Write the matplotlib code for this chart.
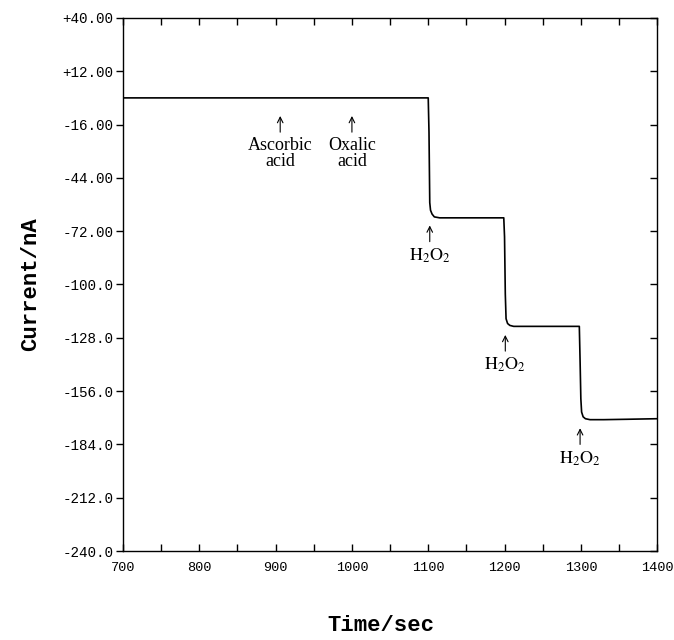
"""Amperometric response: current vs time with successive H2O2 additions."""
import numpy as np
import matplotlib
matplotlib.use('Agg')
import matplotlib.pyplot as plt

plt.rcParams['mathtext.fontset'] = 'stix'

# trace (time in s, current in nA)
time_s = [700, 1000, 1100, 1101, 1102, 1103, 1105, 1108, 1115, 1150, 1199,
          1200, 1201, 1202, 1204, 1207, 1212, 1250, 1298, 1299, 1300,
          1301, 1303, 1306, 1312, 1330, 1360, 1400]
current_nA = [-2, -2, -2, -20, -57, -61, -63, -64.5, -65, -65, -65,
              -75, -105, -118, -120.5, -121.5, -122, -122, -122, -140, -160,
              -167, -169.5, -170.5, -171, -171, -170.8, -170.5]

y_ticks = [40, 12, -16, -44, -72, -100, -128, -156, -184, -212, -240]
y_labels = ['+40.00', '+12.00', '-16.00', '-44.00', '-72.00', '-100.0',
            '-128.0', '-156.0', '-184.0', '-212.0', '-240.0']
x_ticks = [700, 800, 900, 1000, 1100, 1200, 1300, 1400]

# additions: (time, arrow tip current, label)
mark_t = [906, 1000, 1102, 1201, 1299]
mark_tip = [-11.5, -11.5, -69, -126.5, -175.5]
mark_lab = ['Ascorbic\nacid', 'Oxalic\nacid', r'$\mathrm{H_2O_2}$',
            r'$\mathrm{H_2O_2}$', r'$\mathrm{H_2O_2}$']

MONO = 'Liberation Mono'
SERIF = ['Liberation Serif', 'DejaVu Serif']

fig = plt.figure(figsize=(6.74, 6.4), dpi=100)
ax = fig.add_axes([0.1825, 0.139, 0.7925, 0.833])
ax.plot(time_s, current_nA, color='black', lw=1.2)
ax.set_xlim(700, 1400)
ax.set_ylim(-240, 40)

ax.set_yticks(y_ticks)
ax.set_yticklabels(y_labels, family=MONO, fontsize=10.3)
ax.set_xticks(x_ticks)
ax.set_xticklabels([str(v) for v in x_ticks], family=MONO, fontsize=9.7)
ax.set_xticks(np.arange(750, 1400, 100), minor=True)
ax.tick_params(axis='y', which='major', direction='out', length=5, width=1,
               right=True, labelright=False, pad=2)
ax.tick_params(axis='x', which='both', direction='in', length=5, width=1,
               top=True, pad=8)
for s in ax.spines.values():
    s.set_linewidth(1.0)
# right-hand ticks point inward
for t in ax.yaxis.get_major_ticks():
    t.tick2line.set_marker(matplotlib.markers.TICKLEFT)

for x, y, lab in zip(mark_t, mark_tip, mark_lab):
    ax.annotate('', xy=(x, y), xytext=(x, y - 8.5),
                arrowprops=dict(arrowstyle='->', lw=0.8, color='black',
                                shrinkA=0, shrinkB=0, mutation_scale=10))
    ax.text(x, y - 11, lab, ha='center', va='top', fontsize=13,
            family=SERIF, linespacing=0.95)

ax.set_ylabel('Current/nA', family=MONO, fontweight='bold', fontsize=16,
              labelpad=15)
fig.text(0.565, 0.023, 'Time/sec', family=MONO, fontweight='bold',
         fontsize=16, ha='center', va='center')

fig.savefig('out.png', dpi=100)
